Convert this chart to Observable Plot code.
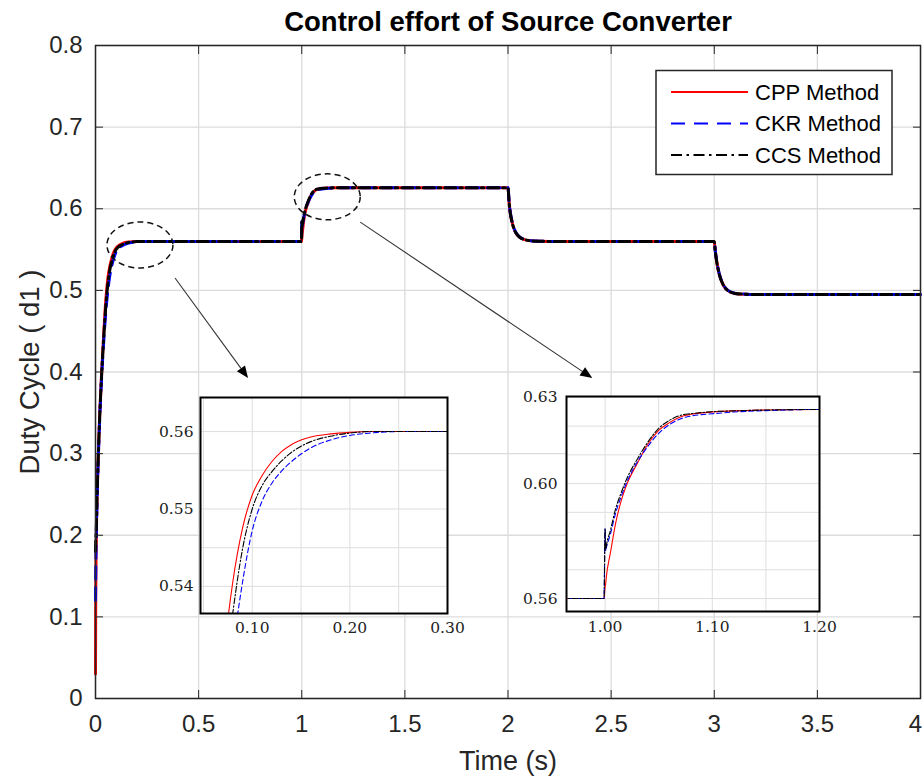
<!DOCTYPE html>
<html><head><meta charset="utf-8">
<script src="https://cdn.jsdelivr.net/npm/d3@7"></script>
<script src="https://cdn.jsdelivr.net/npm/@observablehq/plot@0.6"></script>
<style>
body{margin:0;background:#fff;}
#wrap{position:relative;width:924px;height:778px;overflow:hidden;background:#fff;}
#wrap svg{position:absolute;left:0;top:0;}
</style></head><body><div id="wrap"></div>
<script>
// ---------- data ----------
const timeS = [0, 0.001, 0.003, 0.006, 0.01, 0.015, 0.02, 0.03, 0.04, 0.05,
  0.06, 0.07, 0.08, 0.09, 0.10, 0.11, 0.12, 0.13, 0.14, 0.15,
  0.16, 0.18, 0.20, 0.22, 0.25, 0.30, 0.50, 0.999,
  1.0, 1.0005, 1.001, 1.005, 1.01, 1.015, 1.02, 1.03, 1.04, 1.05,
  1.06, 1.07, 1.08, 1.09, 1.10, 1.12, 1.15, 1.20, 1.30, 1.50, 1.999,
  2.0, 2.005, 2.01, 2.02, 2.03, 2.04, 2.05, 2.06, 2.08, 2.10, 2.15, 2.20, 2.50, 2.999,
  3.0, 3.005, 3.01, 3.02, 3.03, 3.04, 3.05, 3.06, 3.08, 3.10, 3.15, 3.20, 3.50, 4.0];

const cppDuty = [0.030, 0.120, 0.180, 0.230, 0.270, 0.310, 0.345, 0.400, 0.447, 0.488,
  0.515, 0.530, 0.5405, 0.5475, 0.5518, 0.5543, 0.5561, 0.5574, 0.5583, 0.5589,
  0.5593, 0.5597, 0.5599, 0.5600, 0.5600, 0.5600, 0.5600, 0.5600,
  0.5639, 0.5650, 0.5670, 0.5760, 0.5865, 0.5940, 0.5995, 0.6070, 0.6138, 0.6185,
  0.6212, 0.6232, 0.6241, 0.6246, 0.6249, 0.6253, 0.6256, 0.6258, 0.6258, 0.6258, 0.6258,
  0.6258, 0.6090, 0.5970, 0.5835, 0.5750, 0.5698, 0.5666, 0.5645, 0.5622, 0.5611, 0.5602, 0.5600, 0.5600, 0.5600,
  0.5600, 0.5480, 0.5385, 0.5245, 0.5150, 0.5085, 0.5040, 0.5010, 0.4978, 0.4963, 0.4953, 0.4950, 0.4950, 0.4950];

const ckrDuty = [0.120, 0.150, 0.190, 0.225, 0.265, 0.305, 0.340, 0.395, 0.438, 0.474,
  0.500, 0.519, 0.5315, 0.5405, 0.5472, 0.5510, 0.5533, 0.5549, 0.5561, 0.5571,
  0.5579, 0.5589, 0.5595, 0.5598, 0.5600, 0.5600, 0.5600, 0.5600,
  0.5843, 0.5767, 0.5775, 0.5825, 0.5900, 0.5955, 0.6003, 0.6075, 0.6130, 0.6175,
  0.6205, 0.6225, 0.6235, 0.6240, 0.6243, 0.6249, 0.6254, 0.6258, 0.6258, 0.6258, 0.6258,
  0.6258, 0.6095, 0.5975, 0.5840, 0.5755, 0.5702, 0.5670, 0.5648, 0.5624, 0.5612, 0.5603, 0.5600, 0.5600, 0.5600,
  0.5600, 0.5485, 0.5390, 0.5250, 0.5155, 0.5090, 0.5045, 0.5014, 0.4980, 0.4965, 0.4954, 0.4950, 0.4950, 0.4950];

const ccsDuty = [0.180, 0.190, 0.200, 0.230, 0.268, 0.308, 0.343, 0.398, 0.443, 0.481,
  0.508, 0.526, 0.5365, 0.5448, 0.5500, 0.5530, 0.5548, 0.5562, 0.5573, 0.5581,
  0.5587, 0.5594, 0.5598, 0.5600, 0.5600, 0.5600, 0.5600, 0.5600,
  0.5843, 0.5767, 0.5780, 0.5838, 0.5915, 0.5968, 0.6015, 0.6085, 0.6145, 0.6192,
  0.6220, 0.6237, 0.6243, 0.6247, 0.6250, 0.6253, 0.6256, 0.6258, 0.6258, 0.6258, 0.6258,
  0.6258, 0.6085, 0.5965, 0.5832, 0.5748, 0.5697, 0.5666, 0.5645, 0.5622, 0.5611, 0.5602, 0.5600, 0.5600, 0.5600,
  0.5600, 0.5478, 0.5383, 0.5244, 0.5150, 0.5086, 0.5041, 0.5011, 0.4978, 0.4963, 0.4953, 0.4950, 0.4950, 0.4950];

const seriesNames = ["CPP Method", "CKR Method", "CCS Method"];
const xTicks = [0, 0.5, 1, 1.5, 2, 2.5, 3, 3.5, 4];
const yTicks = [0, 0.1, 0.2, 0.3, 0.4, 0.5, 0.6, 0.7, 0.8];

const inset1XTicks = [0.10, 0.20, 0.30];
const inset1YTicks = [0.54, 0.55, 0.56];
const inset1XGrid = [0.05, 0.10, 0.15, 0.20, 0.25, 0.30];
const inset1YGrid = [0.54, 0.545, 0.55, 0.555, 0.56];
const inset2XTicks = [1.00, 1.10, 1.20];
const inset2YTicks = [0.56, 0.60, 0.63];
const inset2XGrid = [1.00, 1.05, 1.10, 1.15, 1.20];
const inset2YGrid = [0.56, 0.57, 0.58, 0.59, 0.60, 0.61, 0.62, 0.63];

// annotation anchors (data coordinates)
const zoomCenters = [[0.218, 0.555], [1.126, 0.614]];
const arrowStarts = [[0.388, 0.5146], [1.286, 0.583]];
const arrowEnds = [[0.742, 0.392], [2.411, 0.392]];

// ---------- build ----------
const allValues = [cppDuty, ckrDuty, ccsDuty];
const rows = [];
seriesNames.forEach((name, k) => timeS.forEach((t, i) => rows.push({series: name, t, d: allValues[k][i]})));

const colors = {"CPP Method": "#ff0000", "CKR Method": "#0000ff", "CCS Method": "#000000"};
const dashMain = {"CPP Method": null, "CKR Method": "13,8", "CCS Method": "11,4,2.5,4"};
const dashInset = {"CPP Method": null, "CKR Method": "5,3", "CCS Method": "6,2,1.5,2"};

function lineMarks(width, dashes, clip) {
  return seriesNames.map(name => Plot.line(rows.filter(r => r.series === name), {
    x: "t", y: "d", stroke: colors[name], strokeWidth: width,
    strokeDasharray: dashes[name], curve: "monotone-x", clip
  }));
}

const FONT = "'Liberation Sans', Arial, Helvetica, sans-serif";
const wrap = document.getElementById("wrap");
const lastX = xTicks[xTicks.length - 1];

const main = Plot.plot({
  width: 924, height: 778,
  marginLeft: 95, marginRight: 4, marginTop: 45, marginBottom: 80,
  style: {background: "white", fontFamily: FONT, fontSize: "24px", color: "#262626", overflow: "visible"},
  x: {domain: [0, 4], label: null},
  y: {domain: [0, 0.8], label: null},
  marks: [
    Plot.gridX(xTicks, {stroke: "#dcdcdc", strokeOpacity: 1, strokeWidth: 1.3}),
    Plot.gridY(yTicks, {stroke: "#dcdcdc", strokeOpacity: 1, strokeWidth: 1.3}),
    ...lineMarks(3, dashMain, false),
    Plot.frame({stroke: "#262626", strokeWidth: 1.5}),
    Plot.axisX(xTicks.filter(d => d !== lastX), {anchor: "bottom", tickSize: 0, tickPadding: 16, tickFormat: d => String(d), fill: "#262626"}),
    Plot.axisX([lastX], {anchor: "bottom", tickSize: 0, tickPadding: 16, dx: -5, tickFormat: d => String(d), fill: "#262626"}),
    Plot.axisX(xTicks, {anchor: "bottom", tickSize: -8, tickFormat: () => "", stroke: "#262626"}),
    Plot.axisX(xTicks, {anchor: "top", tickSize: -8, tickFormat: () => "", stroke: "#262626"}),
    Plot.axisY(yTicks, {anchor: "left", tickSize: 0, tickPadding: 13, tickFormat: d => String(d), fill: "#262626"}),
    Plot.axisY(yTicks, {anchor: "left", tickSize: -8, tickFormat: () => "", stroke: "#262626"}),
    Plot.axisY(yTicks, {anchor: "right", tickSize: -8, tickFormat: () => "", stroke: "#262626"}),
    Plot.text(["Control effort of Source Converter"], {text: d => d, frameAnchor: "top", textAnchor: "middle", lineAnchor: "middle", dy: -23, fontWeight: "bold", fontSize: 27.5, fill: "#000"}),
    Plot.text(["Time (s)"], {text: d => d, frameAnchor: "bottom", textAnchor: "middle", lineAnchor: "middle", dy: 63, fontSize: 27, fill: "#262626"}),
    Plot.text(["Duty Cycle ( d1 )"], {text: d => d, frameAnchor: "left", textAnchor: "middle", lineAnchor: "middle", dx: -65, rotate: -90, fontSize: 27.5, fill: "#262626"})
  ]
});
wrap.appendChild(main);

// annotations: dashed ellipses + arrows
const sx = main.scale("x"), sy = main.scale("y");
const ann = d3.select(main).append("g");
zoomCenters.forEach(c => {
  ann.append("ellipse").attr("cx", sx.apply(c[0])).attr("cy", sy.apply(c[1]))
    .attr("rx", 33).attr("ry", 23).attr("fill", "none").attr("stroke", "#111")
    .attr("stroke-width", 1.5).attr("stroke-dasharray", "6,4");
});
arrowStarts.forEach((s, i) => {
  const x1 = sx.apply(s[0]), y1 = sy.apply(s[1]);
  const x2 = sx.apply(arrowEnds[i][0]), y2 = sy.apply(arrowEnds[i][1]);
  const L = Math.hypot(x2 - x1, y2 - y1), ux = (x2 - x1) / L, uy = (y2 - y1) / L;
  const hl = 12, hw = 5;
  const bx = x2 - ux * hl, by = y2 - uy * hl;
  ann.append("line").attr("x1", x1).attr("y1", y1).attr("x2", bx).attr("y2", by)
    .attr("stroke", "#333").attr("stroke-width", 1.1);
  ann.append("path").attr("d", `M${x2},${y2}L${bx - uy * hw},${by + ux * hw}L${bx + uy * hw},${by - ux * hw}Z`)
    .attr("fill", "#000");
});

// ---------- insets ----------
const SERIF = "'DejaVu Serif', 'Liberation Serif', serif";
function makeInset(o) {
  const p = Plot.plot({
    width: o.w, height: o.h, marginLeft: o.ml, marginTop: o.mt, marginRight: o.mr, marginBottom: o.mb,
    style: {background: "transparent", fontFamily: SERIF, fontSize: "15.5px", color: "#222", overflow: "visible"},
    x: {domain: o.xd, label: null},
    y: {domain: o.yd, label: null},
    marks: [
      Plot.frame({fill: "white"}),
      Plot.gridX(o.xg, {stroke: "#dedede", strokeOpacity: 1, strokeWidth: 1}),
      Plot.gridY(o.yg, {stroke: "#dedede", strokeOpacity: 1, strokeWidth: 1}),
      ...lineMarks(1.1, dashInset, true),
      Plot.frame({stroke: "#000", strokeWidth: 2}),
      Plot.axisX(o.xt, {anchor: "bottom", tickSize: 0, tickPadding: o.xp, tickFormat: d3.format(".2f"), fill: "#222"}),
      Plot.axisY(o.yt, {anchor: "left", tickSize: 0, tickPadding: o.yp, tickFormat: d3.format(".2f"), fill: "#222"})
    ]
  });
  p.style.left = o.left + "px";
  p.style.top = o.top + "px";
  wrap.appendChild(p);
}
makeInset({left: 150, top: 385, w: 310, h: 260, ml: 50, mt: 12, mr: 13, mb: 32,
  xd: [0.047, 0.30], yd: [0.5365, 0.5644], xg: inset1XGrid, yg: inset1YGrid,
  xt: inset1XTicks, yt: inset1YTicks, xp: 8, yp: 7});
makeInset({left: 510, top: 384, w: 330, h: 260, ml: 56, mt: 12, mr: 21, mb: 33,
  xd: [0.964, 1.20], yd: [0.5555, 0.6303], xg: inset2XGrid, yg: inset2YGrid,
  xt: inset2XTicks, yt: inset2YTicks, xp: 9, yp: 9});

// ---------- legend ----------
const leg = d3.select(wrap).append("svg").attr("width", 240).attr("height", 108)
  .style("left", "655px").style("top", "69px");
leg.append("rect").attr("x", 1).attr("y", 1.5).attr("width", 236).attr("height", 104)
  .attr("fill", "white").attr("stroke", "#262626").attr("stroke-width", 1.5);
const legDash = {"CPP Method": null, "CKR Method": "14,9", "CCS Method": "11,4.5,2.5,4.5"};
seriesNames.forEach((name, i) => {
  const y = 23 + i * 31.5;
  leg.append("line").attr("x1", 16).attr("x2", 93).attr("y1", y).attr("y2", y)
    .attr("stroke", colors[name]).attr("stroke-width", 2).attr("stroke-dasharray", legDash[name]);
  leg.append("text").attr("x", 100).attr("y", y).attr("dy", "0.35em")
    .attr("font-family", FONT).attr("font-size", 22).attr("fill", "#000").text(name);
});
</script></body></html>
